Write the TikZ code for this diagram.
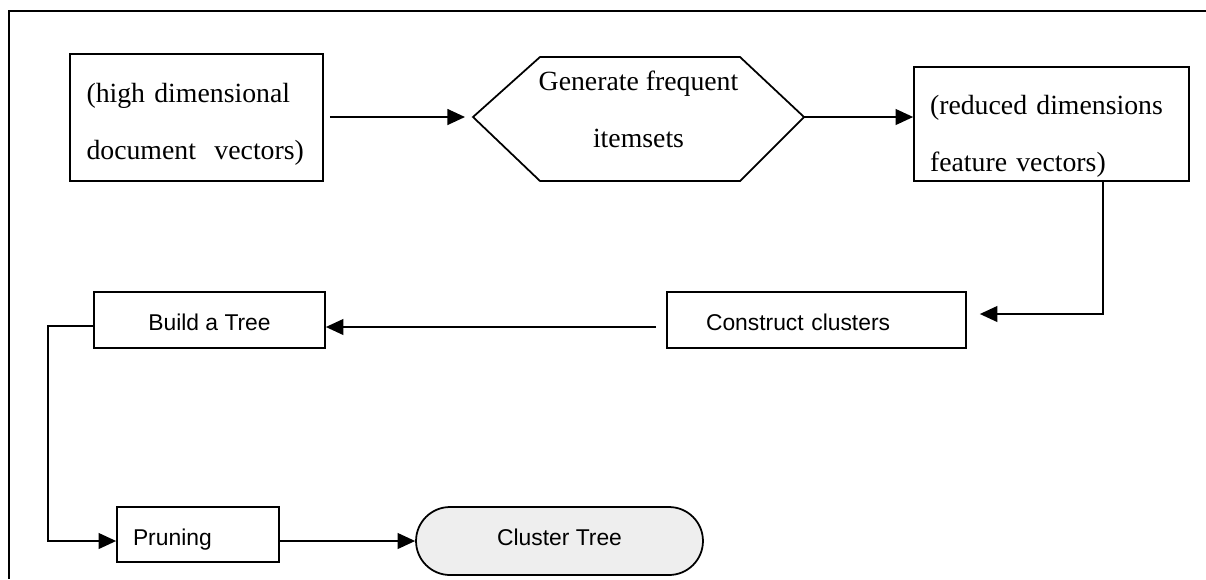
\documentclass[tikz,border=0pt]{standalone}
\usepackage{fontspec}
\setmainfont{Liberation Serif}
\setsansfont{Liberation Sans}
\usetikzlibrary{arrows.meta,positioning,calc}
\definecolor{tipgray}{RGB}{238,238,238}

\begin{document}
\begin{tikzpicture}[
    x=0.02cm, y=-0.02cm,
    vecbox/.style={rectangle, draw, line width=1pt, align=left, inner ysep=0pt,
        font=\fontsize{15.8}{32.4}\selectfont, text depth=35.4pt},
    stepbox/.style={rectangle, draw, line width=1pt, minimum height=1.12cm,
        font=\sffamily\fontsize{13}{15}\selectfont, text height=12.4pt, text depth=0pt},
    arr/.style={-{Triangle[length=10pt, width=9pt]}, line width=1pt}
]
\useasboundingbox (0,0) rectangle (1206,579);
% outer frame
\draw[line width=1pt] (1206,11) -- (9,11) -- (9,579);

% top row
\node[vecbox, minimum width=5.06cm, minimum height=2.54cm, text width=4.4cm, inner xsep=0.33cm,
    text height=18pt] (highdim) at (196.5,117.5) {(high dimensional\\ document\ \ vectors)};
\node[font=\fontsize{15.8}{32.4}\selectfont, align=center] (genfreq) at (638.5,109)
    {Generate frequent\\ itemsets};
\coordinate (genfreq-w) at (473,117);
\coordinate (genfreq-e) at (804,117);
\draw[line width=1pt] (genfreq-w) -- (540,57) -- (740,57) -- (genfreq-e)
    -- (740,181) -- (540,181) -- cycle;
\node[vecbox, minimum width=5.5cm, minimum height=2.28cm, text width=4.86cm, inner xsep=0.32cm,
    text height=25pt] (reduced) at (1051.5,124) {(reduced dimensions\\ feature vectors)};

% middle row
\node[stepbox, minimum width=5.98cm, text width=4.42cm, inner xsep=0.78cm, align=left]
    (construct) at (816.5,320) {Construct clusters};
\node[stepbox, minimum width=4.62cm] (buildtree) at (209.5,320) {Build a Tree};

% bottom row
\node[stepbox, minimum width=3.24cm, minimum height=1.1cm, text width=2.6cm, inner xsep=0.32cm, align=left]
    (pruning) at (198,534.5) {Pruning};
\node[stepbox, minimum width=5.74cm, minimum height=1.36cm, rounded corners=0.68cm, fill=tipgray,
    text height=4.6pt] (clustertree) at (559.5,541) {Cluster Tree};

\coordinate (turn) at (1103,314);
\coordinate (bend) at (48,541);

\draw[arr, shorten <=0.12cm, shorten >=0.16cm] (highdim.east |- genfreq-w) -- (genfreq-w);
\draw[arr] (genfreq-e) -- (genfreq-e -| reduced.west);
\draw[arr, shorten >=0.26cm] (turn |- reduced.south) -- (turn) -- (turn -| construct.east);
\draw[arr, shorten <=0.2cm] ([yshift=-0.14cm]construct.west) -- ([yshift=-0.14cm]buildtree.east);
\draw[arr] ([yshift=-0.12cm]buildtree.west) -| (bend) -- (bend -| pruning.west);
\draw[arr] (bend -| pruning.east) -- (clustertree.west);
\end{tikzpicture}
\end{document}
